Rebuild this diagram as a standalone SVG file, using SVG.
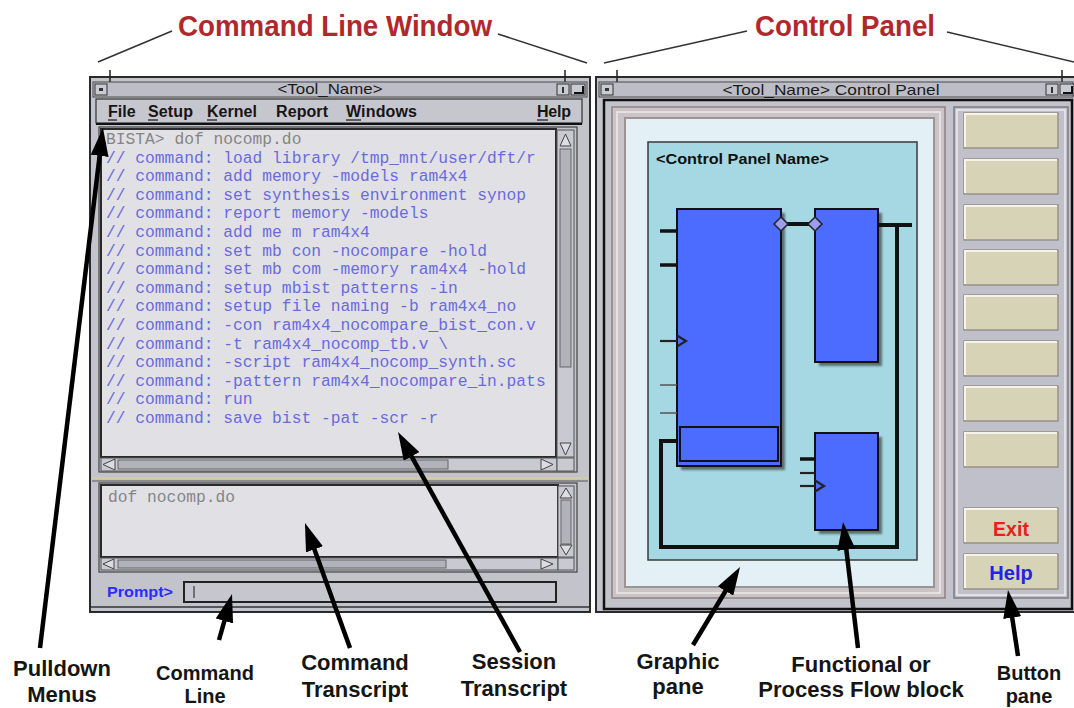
<svg xmlns="http://www.w3.org/2000/svg" width="1074" height="708" viewBox="0 0 1074 708">
<defs>
<style>
.win{fill:#c3c3cb;stroke:#2a2a2a;stroke-width:2}
.tbar{fill:#bdbdc7;stroke:#4a4a4a;stroke-width:1}
.tbtn{fill:#cacad2;stroke:#333;stroke-width:1}
.ttl{font-family:"Liberation Sans",Arial,sans-serif;font-size:15px;fill:#1a1a1a;text-anchor:middle}
.menu{font-family:"Liberation Sans",Arial,sans-serif;font-size:16px;font-weight:bold;fill:#151515}
.ul{stroke:#151515;stroke-width:1.2}
.frame{fill:#c3c3cb;stroke:#444;stroke-width:1.2}
.pane{fill:#e1e1e5;stroke:#2a2a2a;stroke-width:2}
.mono{font-family:"Liberation Mono","Courier New",monospace;font-size:16.3px}
.cmd{fill:#6a6ade}
.echo{fill:#858585}
.trough{fill:#c9c9d1;stroke:#555;stroke-width:1}
.thumb{fill:#b2b2ba;stroke:#666;stroke-width:1}
.sarrow{fill:#dcdce2;stroke:#444;stroke-width:1}
.blk{fill:#4c6cff;stroke:#111;stroke-width:2}
.shadow{fill:#2a2a2a;opacity:.6}
.wire{fill:none;stroke:#111;stroke-width:4}
.pin{stroke:#111;stroke-width:3.5}
.pinm{stroke:#222;stroke-width:2.2;fill:none}
.thin{stroke:#555;stroke-width:1.5}
.dia{fill:#9c9cf0;stroke:#222;stroke-width:1.5}
.btn{fill:#d7d3b6;stroke:#8d8478;stroke-width:1.2}
.btnhi{fill:none;stroke:#f6f4ea;stroke-width:2}
.lbl{font-family:"Liberation Sans",Arial,sans-serif;font-size:22px;font-weight:bold;fill:#151515;text-anchor:middle}
.lbs{font-family:"Liberation Sans",Arial,sans-serif;font-size:20px;font-weight:bold;fill:#151515;text-anchor:middle}
.head{font-family:"Liberation Sans Narrow","Liberation Sans",Arial,sans-serif;font-size:29px;font-weight:bold;fill:#b1282c;text-anchor:middle}
.arrow{stroke:#000;stroke-width:4.5;fill:none;marker-end:url(#ah)}
.callout{stroke:#333;stroke-width:1.6;fill:none}
</style>
<marker id="ah" markerUnits="userSpaceOnUse" viewBox="0 0 28 18" refX="14" refY="9" markerWidth="28" markerHeight="18" orient="auto"><path d="M0,0 L28,9 L0,18 z" fill="#000"/></marker>
<filter id="blur" x="-10%" y="-10%" width="120%" height="120%"><feGaussianBlur stdDeviation="1.2"/></filter>
</defs>
<rect x="0" y="0" width="1074" height="708" fill="#ffffff"/>

<!-- Headings -->
<g id="heading-cmd"><text class="head" x="335" y="36" textLength="314" lengthAdjust="spacingAndGlyphs">Command Line Window</text></g>
<g id="heading-cp"><text class="head" x="845" y="36" textLength="180" lengthAdjust="spacingAndGlyphs">Control Panel</text></g>

<!-- Command line window -->
<g id="cmd-window">
<rect class="win" x="90" y="77" width="500" height="535"/>
<line x1="110" y1="70" x2="110" y2="82" stroke="#222" stroke-width="1.5"/>
<line x1="565" y1="70" x2="565" y2="82" stroke="#222" stroke-width="1.5"/>
<rect class="tbar" x="93" y="82" width="494" height="15"/>
<rect class="tbtn" x="95" y="84" width="12" height="11"/><rect x="99" y="88" width="4" height="3" fill="#333"/>
<rect class="tbtn" x="557" y="84" width="12" height="11"/><rect x="562" y="87" width="2" height="6" fill="#333"/>
<rect class="tbtn" x="571" y="84" width="14" height="11"/><path d="M574,93 H583 V86" stroke="#111" stroke-width="2" fill="none"/>
<text class="ttl" x="330" y="94" textLength="105" lengthAdjust="spacingAndGlyphs">&lt;Tool_Name&gt;</text>
<g id="menubar">
<rect x="96" y="99" width="486" height="24" fill="#c6c6ce" stroke="#333" stroke-width="1.2"/>
<line x1="96" y1="124" x2="582" y2="124" stroke="#111" stroke-width="2"/>
<text class="menu" x="108" y="117">File</text><line class="ul" x1="108" y1="120" x2="117" y2="120"/>
<text class="menu" x="148" y="117" textLength="45">Setup</text><line class="ul" x1="148" y1="120" x2="158" y2="120"/>
<text class="menu" x="207" y="117" textLength="50">Kernel</text><line class="ul" x1="207" y1="120" x2="217" y2="120"/>
<text class="menu" x="276" y="117" textLength="52">Report</text>
<text class="menu" x="346" y="117" textLength="71">Windows</text><line class="ul" x1="346" y1="120" x2="361" y2="120"/>
<text class="menu" x="537" y="117" textLength="34">Help</text><line class="ul" x1="537" y1="120" x2="548" y2="120"/>
</g>
<g id="session-transcript">
<rect class="frame" x="99" y="127" width="478" height="345"/>
<rect class="pane" x="101" y="129" width="455" height="328"/>
<g class="mono">
<text class="echo" x="106" y="144">BISTA&gt; dof nocomp.do</text>
<text class="cmd" x="106" y="162.6">// command: load library /tmp_mnt/user/dft/r</text>
<text class="cmd" x="106" y="181.2">// command: add memory -models ram4x4</text>
<text class="cmd" x="106" y="199.8">// command: set synthesis environment synop</text>
<text class="cmd" x="106" y="218.4">// command: report memory -models</text>
<text class="cmd" x="106" y="237">// command: add me m ram4x4</text>
<text class="cmd" x="106" y="255.6">// command: set mb con -nocompare -hold</text>
<text class="cmd" x="106" y="274.2">// command: set mb com -memory ram4x4 -hold</text>
<text class="cmd" x="106" y="292.8">// command: setup mbist patterns -in</text>
<text class="cmd" x="106" y="311.4">// command: setup file naming -b ram4x4_no</text>
<text class="cmd" x="106" y="330">// command: -con ram4x4_nocompare_bist_con.v</text>
<text class="cmd" x="106" y="348.6">// command: -t ram4x4_nocomp_tb.v \</text>
<text class="cmd" x="106" y="367.2">// command: -script ram4x4_nocomp_synth.sc</text>
<text class="cmd" x="106" y="385.8">// command: -pattern ram4x4_nocompare_in.pats</text>
<text class="cmd" x="106" y="404.4">// command: run</text>
<text class="cmd" x="106" y="423">// command: save bist -pat -scr -r</text>
</g>
<rect class="trough" x="557" y="130" width="17" height="327"/>
<path class="sarrow" d="M560,146 L565.5,134 L571,146 Z"/>
<rect class="thumb" x="560" y="149" width="11" height="218"/>
<path class="sarrow" d="M560,443 L571,443 L565.5,455 Z"/>
<rect class="trough" x="101" y="458" width="456" height="13"/>
<path class="sarrow" d="M115,459 L103,464.5 L115,470 Z"/>
<rect class="thumb" x="118" y="460" width="330" height="9"/>
<path class="sarrow" d="M541,459 L553,464.5 L541,470 Z"/>
<rect class="trough" x="557" y="458" width="17" height="13"/>
</g>
<line x1="92" y1="478" x2="588" y2="478" stroke="#d2caa8" stroke-width="2"/>
<line x1="92" y1="481" x2="588" y2="481" stroke="#555" stroke-width="1"/>
<g id="command-transcript">
<rect class="frame" x="99" y="483" width="478" height="89"/>
<rect class="pane" x="101" y="485" width="457" height="72"/>
<text class="mono echo" x="108" y="502">dof nocomp.do</text>
<rect class="trough" x="558" y="486" width="16" height="71"/>
<path class="sarrow" d="M560,498 L566,488 L572,498 Z"/>
<rect class="thumb" x="561" y="500" width="10" height="44"/>
<path class="sarrow" d="M560,545 L572,545 L566,555 Z"/>
<rect class="trough" x="101" y="558" width="457" height="12"/>
<path class="sarrow" d="M114,559 L103,564 L114,569 Z"/>
<rect class="thumb" x="118" y="560" width="328" height="8"/>
<path class="sarrow" d="M541,559 L553,564 L541,569 Z"/>
<rect class="trough" x="558" y="558" width="16" height="12"/>
</g>
<g id="command-line">
<text x="107" y="597" font-family="Liberation Sans, Arial, sans-serif" font-size="14" font-weight="bold" fill="#2b2bff" textLength="66" lengthAdjust="spacingAndGlyphs">Prompt&gt;</text>
<rect x="184" y="582" width="372" height="20" fill="#c6c6ce" stroke="#222" stroke-width="2"/>
<line x1="194" y1="586" x2="194" y2="598" stroke="#555" stroke-width="1.5"/>
</g>
<line x1="91" y1="607" x2="589" y2="607" stroke="#333" stroke-width="1.5"/>
</g>

<!-- Control panel window -->
<g id="control-panel">
<rect class="win" x="596" y="77" width="479" height="535"/>
<line x1="617" y1="70" x2="617" y2="82" stroke="#222" stroke-width="1.5"/>
<line x1="1062" y1="70" x2="1062" y2="82" stroke="#222" stroke-width="1.5"/>
<rect class="tbar" x="599" y="82" width="474" height="15"/>
<rect class="tbtn" x="601" y="84" width="12" height="11"/><rect x="605" y="88" width="4" height="3" fill="#333"/>
<rect class="tbtn" x="1046" y="84" width="12" height="11"/><rect x="1051" y="87" width="2" height="6" fill="#333"/>
<rect class="tbtn" x="1060" y="84" width="14" height="11"/><path d="M1063,93 H1072 V86" stroke="#111" stroke-width="2" fill="none"/>
<text class="ttl" x="831" y="95" textLength="217" lengthAdjust="spacingAndGlyphs">&lt;Tool_Name&gt; Control Panel</text>
<rect x="604" y="100" width="468" height="509" fill="#c3c3cb" stroke="#111" stroke-width="2.5"/>
</g>

<g id="graphic-pane">
<rect x="612" y="107" width="333" height="491" fill="#cbc4c6" stroke="#8e8282" stroke-width="1.5"/>
<rect x="617" y="112" width="323" height="481" fill="none" stroke="#eeeaea" stroke-width="1.5"/>
<rect x="625" y="118" width="309" height="469" fill="#e3f1f7" stroke="#9d9393" stroke-width="2"/>
<rect x="648" y="142" width="269" height="418" fill="#a6d8e4" stroke="#3a3a3a" stroke-width="1.5"/>
<text x="656" y="164" font-family="Liberation Sans, Arial, sans-serif" font-size="15" font-weight="bold" fill="#111" textLength="173" lengthAdjust="spacingAndGlyphs">&lt;Control Panel Name&gt;</text>
</g>

<g id="block-1">
<rect class="shadow" x="681" y="213" width="104" height="257" filter="url(#blur)"/>
<rect class="blk" x="677" y="209" width="104" height="257"/>
<rect class="blk" x="680" y="427" width="98" height="34"/>
<line class="pin" x1="660" y1="231" x2="677" y2="231"/>
<line class="pin" x1="660" y1="265" x2="677" y2="265"/>
<line class="pinm" x1="660" y1="341" x2="677" y2="341"/>
<path class="pinm" d="M677,335.5 L686,341 L677,346.5"/>
<line class="thin" x1="660" y1="385" x2="677" y2="385"/>
<line class="thin" x1="660" y1="413" x2="677" y2="413"/>
</g>
<g id="block-2">
<rect class="shadow" x="819" y="213" width="63" height="153" filter="url(#blur)"/>
<rect class="blk" x="815" y="209" width="63" height="153"/>
</g>
<g id="block-3">
<rect class="shadow" x="819" y="437" width="63" height="97" filter="url(#blur)"/>
<rect class="blk" x="815" y="433" width="63" height="97"/>
<line class="pin" x1="800" y1="459" x2="815" y2="459"/>
<line class="pinm" x1="800" y1="473" x2="815" y2="473"/>
<line class="pinm" x1="800" y1="486" x2="815" y2="486"/>
<path class="pinm" d="M815,480.5 L824,486 L815,491.5"/>
</g>

<g id="button-pane">
<rect x="954" y="107" width="114" height="491" fill="#c0c0ca" stroke="#7f7a80" stroke-width="1.5"/>
<rect x="957" y="110" width="108" height="485" fill="none" stroke="#ecebef" stroke-width="1.5"/>
<g id="btn-1"><rect class="btn" x="964" y="113" width="94" height="35"/><path class="btnhi" d="M965,147 V114 H1057"/></g>
<g id="btn-2"><rect class="btn" x="964" y="159" width="94" height="35"/><path class="btnhi" d="M965,193 V160 H1057"/></g>
<g id="btn-3"><rect class="btn" x="964" y="205" width="94" height="35"/><path class="btnhi" d="M965,239 V206 H1057"/></g>
<g id="btn-4"><rect class="btn" x="964" y="250" width="94" height="35"/><path class="btnhi" d="M965,284 V251 H1057"/></g>
<g id="btn-5"><rect class="btn" x="964" y="295" width="94" height="35"/><path class="btnhi" d="M965,329 V296 H1057"/></g>
<g id="btn-6"><rect class="btn" x="964" y="341" width="94" height="35"/><path class="btnhi" d="M965,375 V342 H1057"/></g>
<g id="btn-7"><rect class="btn" x="964" y="386" width="94" height="35"/><path class="btnhi" d="M965,420 V387 H1057"/></g>
<g id="btn-8"><rect class="btn" x="964" y="432" width="94" height="35"/><path class="btnhi" d="M965,466 V433 H1057"/></g>
<g id="btn-exit"><rect class="btn" x="964" y="508" width="94" height="35"/><path class="btnhi" d="M965,542 V509 H1057"/>
<text x="1011" y="536" font-family="Liberation Sans, Arial, sans-serif" font-size="19.5" font-weight="bold" fill="#e8201c" text-anchor="middle">Exit</text></g>
<g id="btn-help"><rect class="btn" x="964" y="554" width="94" height="35"/><path class="btnhi" d="M965,588 V555 H1057"/>
<text x="1011" y="580" font-family="Liberation Sans, Arial, sans-serif" font-size="20" font-weight="bold" fill="#2323e6" text-anchor="middle">Help</text></g>
</g>

<!-- Bottom labels -->
<g id="label-pulldown"><text class="lbl" x="62" y="676">Pulldown</text><text class="lbl" x="62" y="702">Menus</text></g>
<g id="label-cmdline"><text class="lbs" x="205" y="680">Command</text><text class="lbs" x="205" y="703">Line</text></g>
<g id="label-cmdtrans"><text class="lbl" x="355" y="670">Command</text><text class="lbl" x="355" y="697">Transcript</text></g>
<g id="label-session"><text class="lbl" x="514" y="669">Session</text><text class="lbl" x="514" y="696">Transcript</text></g>
<g id="label-graphic"><text class="lbl" x="678" y="669">Graphic</text><text class="lbl" x="678" y="694">pane</text></g>
<g id="label-block"><text class="lbl" x="861" y="672">Functional or</text><text class="lbl" x="861" y="697">Process Flow block</text></g>
<g id="label-button"><text class="lbs" x="1029" y="680">Button</text><text class="lbs" x="1029" y="703">pane</text></g>

<!-- Connectors -->
<g id="connectors">
<line class="callout" x1="98" y1="62" x2="172" y2="31"/>
<line class="callout" x1="498" y1="34" x2="587" y2="63"/>
<line class="callout" x1="604" y1="63" x2="747" y2="31"/>
<line class="callout" x1="947" y1="32" x2="1074" y2="62"/>
<path class="wire" d="M781,224 H815"/>
<path class="wire" d="M878,225 H912"/>
<path class="wire" d="M897,225 V547 H661 V441 H677"/>
<polygon class="dia" points="781,217 788,224 781,231 774,224"/>
<polygon class="dia" points="815,217 822,224 815,231 808,224"/>
<line class="arrow" x1="40" y1="648" x2="101.3" y2="141.9"/>
<line class="arrow" x1="219" y1="640" x2="228.2" y2="607.5"/>
<line class="arrow" x1="350" y1="648" x2="309.7" y2="536.2"/>
<line class="arrow" x1="520" y1="652" x2="404.8" y2="444.2"/>
<line class="arrow" x1="693" y1="645" x2="732.8" y2="579"/>
<line class="arrow" x1="858" y1="648" x2="844.7" y2="535.9"/>
<line class="arrow" x1="1018" y1="656" x2="1010.1" y2="603.8"/>
</g>
</svg>
